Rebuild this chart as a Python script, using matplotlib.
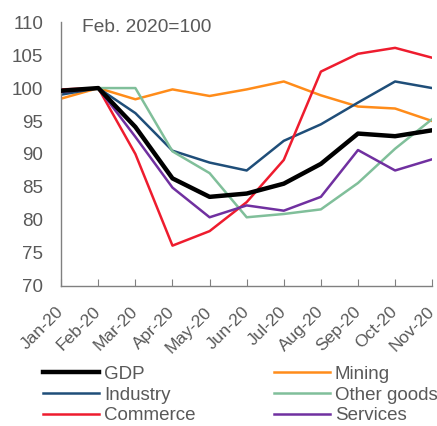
import matplotlib.pyplot as plt

plt.rcParams['font.family'] = ['Liberation Sans', 'DejaVu Sans']

months = ['Jan-20', 'Feb-20', 'Mar-20', 'Apr-20', 'May-20', 'Jun-20',
          'Jul-20', 'Aug-20', 'Sep-20', 'Oct-20', 'Nov-20']

gdp = [99.6, 100.0, 94.1, 86.3, 83.5, 84.0, 85.5, 88.5, 93.1, 92.7, 93.6]
mining = [98.4, 100.0, 98.3, 99.8, 98.8, 99.8, 101.0, 98.9, 97.2, 96.9, 95.0]
industry = [99.0, 100.0, 96.2, 90.5, 88.7, 87.5, 92.0, 94.5, 97.8, 101.0, 100.0]
other_goods = [99.5, 100.0, 100.0, 90.4, 87.1, 80.4, 80.9, 81.6, 85.6, 90.8, 95.3]
commerce = [99.8, 100.0, 90.0, 76.1, 78.3, 82.7, 89.1, 102.5, 105.2, 106.1, 104.6]
services = [99.4, 100.0, 92.6, 84.9, 80.4, 82.2, 81.4, 83.5, 90.6, 87.5, 89.2]

series = {
    'GDP': (gdp, '#000000', 3.2),
    'Mining': (mining, '#FF8C1A', 1.8),
    'Industry': (industry, '#1F4E79', 1.8),
    'Other goods': (other_goods, '#80BF9A', 1.8),
    'Commerce': (commerce, '#EE1C2E', 1.8),
    'Services': (services, '#7030A0', 1.8),
}

grey = '#595959'

fig = plt.figure(figsize=(4.37, 4.26), dpi=100)
ax = fig.add_axes([0.14, 0.329, 0.849, 0.619])

x = list(range(len(months)))
lines = {}
for name, (vals, col, lw) in series.items():
    z = 5 if name == 'GDP' else 2
    lines[name], = ax.plot(x, vals, color=col, lw=lw, label=name, zorder=z)

ax.set_xlim(0, len(months) - 1)
ax.set_ylim(70, 110)
ax.set_yticks(range(70, 111, 5))
ax.set_xticks(x)

for s in ['top', 'right']:
    ax.spines[s].set_visible(False)
for s in ['left', 'bottom']:
    ax.spines[s].set_color('#808080')
    ax.spines[s].set_linewidth(1.0)

ax.tick_params(axis='x', direction='in', length=5, color='#808080', labelsize=12.5, labelcolor=grey, pad=17)
ax.tick_params(axis='y', length=0, labelsize=13.5, labelcolor=grey, pad=13)
ax.set_xticklabels(months, rotation=45, ha='right', va='center', rotation_mode='anchor')

ax.text(0.056, 1.012, 'Feb. 2020=100', transform=ax.transAxes, fontsize=13.8, color=grey, va='top', ha='left')

# legend filled column-wise, so order gives rows GDP/Mining, Industry/Other goods, Commerce/Services
order = ['GDP', 'Industry', 'Commerce', 'Mining', 'Other goods', 'Services']
leg = fig.legend([lines[k] for k in order], order, ncol=2, loc='upper left',
                 bbox_to_anchor=(0.098, 0.142), frameon=False, fontsize=13.5,
                 handlelength=3.0, handletextpad=0.25, columnspacing=4.2,
                 labelspacing=0.2, borderaxespad=0, borderpad=0)
for t in leg.get_texts():
    t.set_color(grey)

fig.savefig('out.png', dpi=100)
